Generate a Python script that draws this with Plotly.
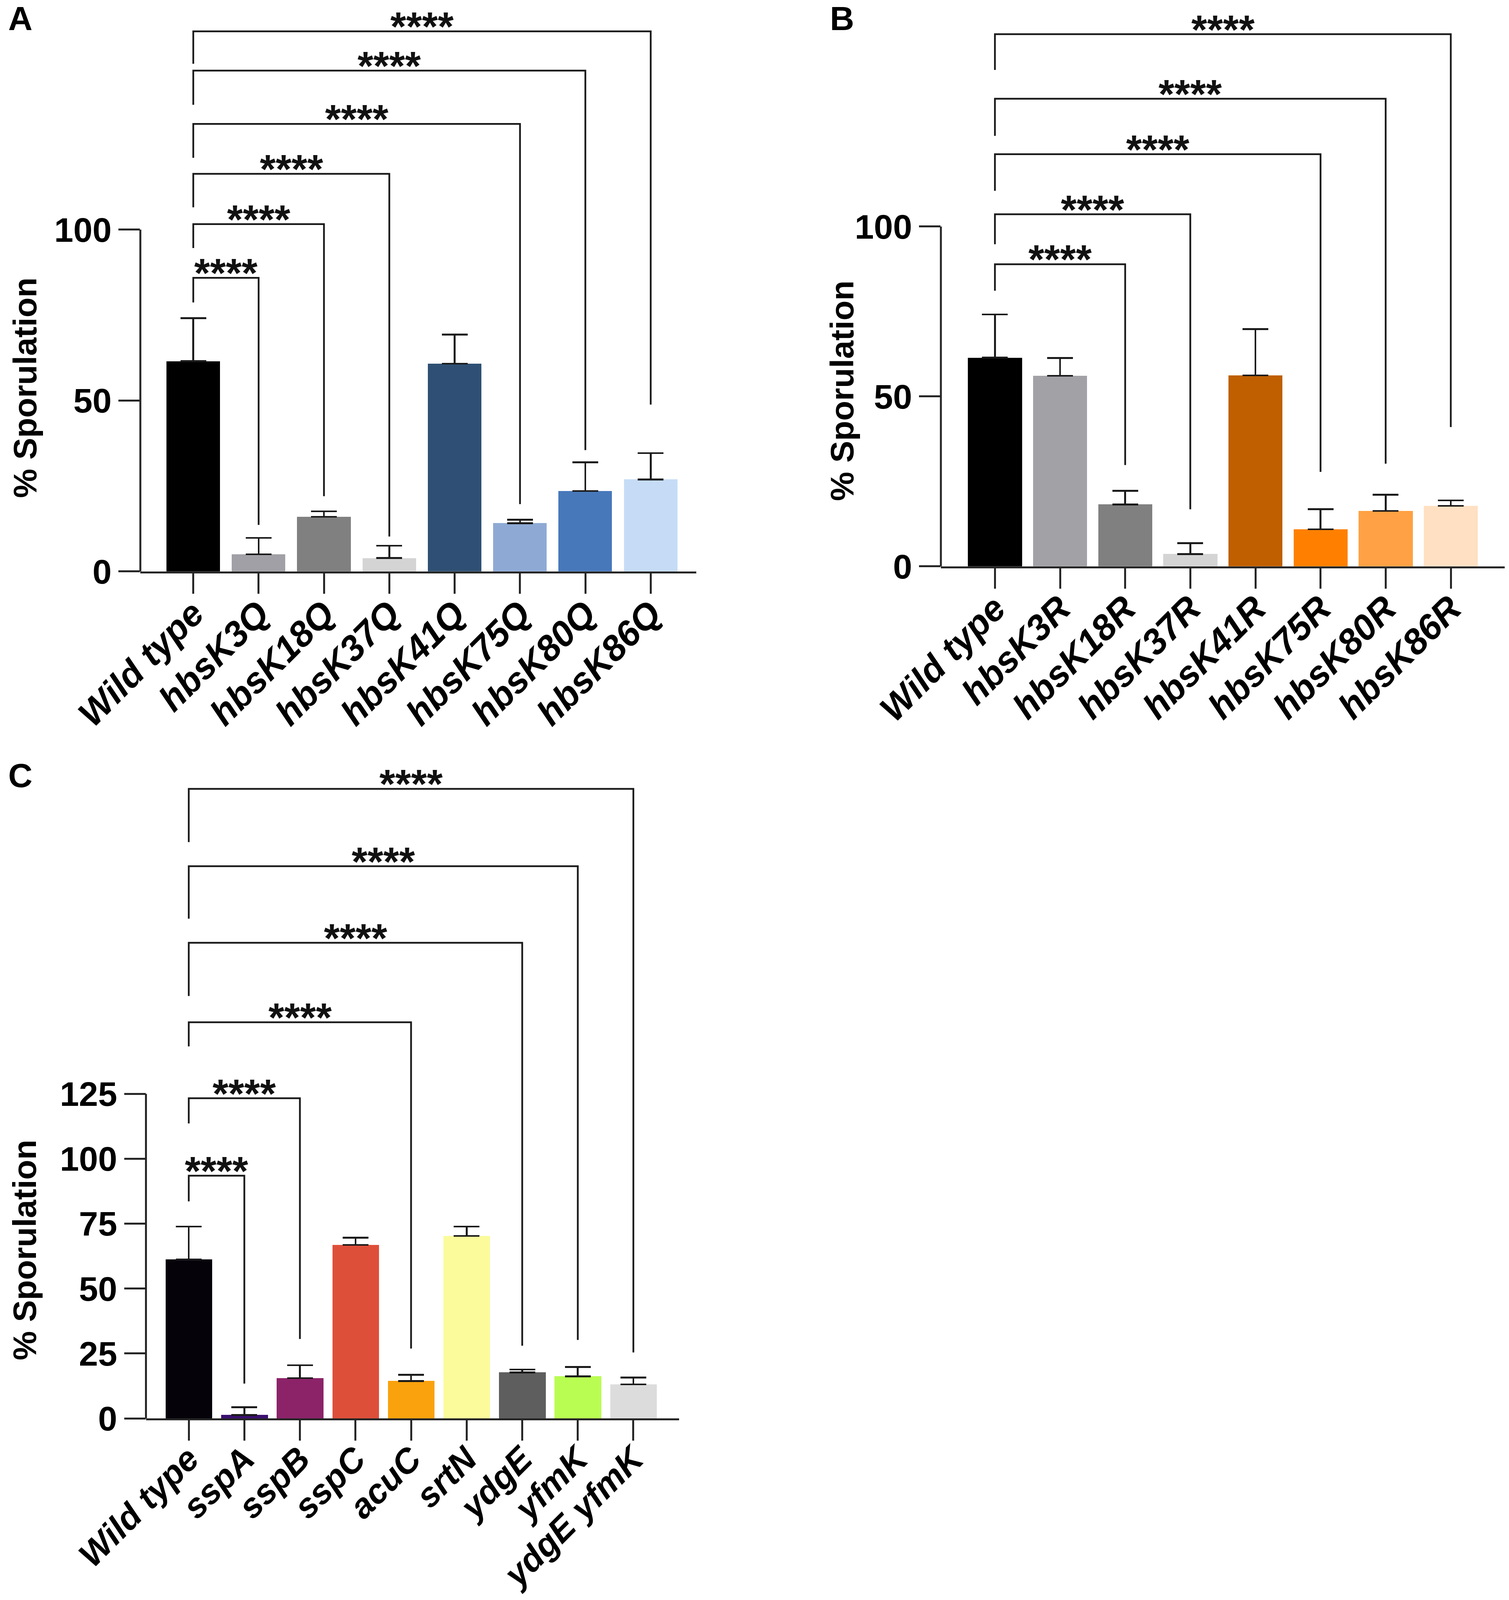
import plotly.graph_objects as go

# ---------------- data ----------------
a_cats = ["Wild type", "hbsK3Q", "hbsK18Q", "hbsK37Q", "hbsK41Q", "hbsK75Q", "hbsK80Q", "hbsK86Q"]
a_vals = [61.5, 5.0, 16.0, 3.9, 60.8, 14.1, 23.5, 26.9]
a_errs = [12.6, 4.8, 1.6, 3.6, 8.5, 1.0, 8.4, 7.7]
a_colors = ["#000000", "#a0a0a6", "#808080", "#d4d4d4", "#2f5074", "#8eaad4", "#4778ba", "#c6dcf6"]
a_targets = [1, 2, 3, 5, 6, 7]
a_bracket_y = [85.9, 101.6, 116.3, 130.9, 146.5, 158.0]
a_left_y = [78.7, 94.6, 106.5, 121.0, 136.5, 148.5]
a_right_y = [13.6, 22.0, 10.2, 19.7, 35.5, 48.8]
a_yticks = [0, 50, 100]

b_cats = ["Wild type", "hbsK3R", "hbsK18R", "hbsK37R", "hbsK41R", "hbsK75R", "hbsK80R", "hbsK86R"]
b_vals = [61.4, 56.1, 18.2, 3.6, 56.2, 10.9, 16.3, 17.8]
b_errs = [12.7, 5.2, 4.0, 3.2, 13.6, 5.9, 4.8, 1.6]
b_colors = ["#000000", "#a1a1a6", "#808080", "#d4d4d4", "#bf5f00", "#ff8000", "#ffa144", "#ffe0c2"]
b_targets = [2, 3, 5, 6, 7]
b_bracket_y = [88.9, 103.6, 121.3, 137.6, 156.6]
b_left_y = [81.1, 94.8, 110.5, 126.7, 146.1]
b_right_y = [29.8, 16.8, 27.8, 30.2, 41.0]
b_yticks = [0, 50, 100]

c_cats = ["Wild type", "sspA", "sspB", "sspC", "acuC", "srtN", "ydgE", "yfmK", "ydgE yfmK"]
c_vals = [61.2, 1.3, 15.5, 66.8, 14.4, 70.3, 17.7, 16.2, 13.1]
c_errs = [12.7, 3.0, 5.0, 2.8, 2.4, 3.6, 1.1, 3.6, 2.6]
c_colors = ["#05020a", "#3b0f70", "#8c2369", "#de4f3a", "#f9a20d", "#fbfb9c", "#5e5e5e", "#b9fd52", "#dcdcdc"]
c_targets = [1, 2, 4, 6, 7, 8]
c_bracket_y = [93.5, 123.3, 152.6, 183.2, 212.7, 242.5]
c_left_y = [83.6, 113.6, 143.3, 162.7, 192.5, 222.0]
c_right_y = [13.4, 30.6, 26.9, 28.0, 30.2, 25.4]
c_yticks = [0, 25, 50, 75, 100, 125]

stars = "****"
ytitle = "% Sporulation"

# ---------------- styling / layout constants ----------------
W, H = 3862, 4508
FONT = "Liberation Sans, Arial, sans-serif"
AXC = "#262626"
LINEW = 5
BRW = 4.5

panels = [
    dict(cats=a_cats, vals=a_vals, errs=a_errs, colors=a_colors, targets=a_targets,
         by=a_bracket_y, ly=a_left_y, ry=a_right_y, yticks=a_yticks,
         xdom=[125 / 1344, 620 / 1344], ydom=[1 - 560 / 1568, 1.0],
         xr=[-0.81, 7.695], yr=[0, 560 / 3.35], bw=0.82, letter="A", xfs=92,
         lpos=(18 / 1344, 1 - 18 / 1568), tpos=(22 / 1344, 1 - 380 / 1568)),
    dict(cats=b_cats, vals=b_vals, errs=b_errs, colors=b_colors, targets=b_targets,
         by=b_bracket_y, ly=b_left_y, ry=b_right_y, yticks=b_yticks,
         xdom=[838 / 1344, 1340 / 1344], ydom=[1 - 555 / 1568, 1.0],
         xr=[-0.83, 7.825], yr=[0, 555 / 3.33], bw=0.83, letter="B", xfs=92,
         lpos=(750 / 1344, 1 - 18 / 1568), tpos=(750 / 1344, 1 - 383 / 1568)),
    dict(cats=c_cats, vals=c_vals, errs=c_errs, colors=c_colors, targets=c_targets,
         by=c_bracket_y, ly=c_left_y, ry=c_right_y, yticks=c_yticks,
         xdom=[130 / 1344, 605 / 1344], ydom=[1 - 1390 / 1568, 1 - 748 / 1568],
         xr=[-0.77, 8.826], yr=[0, 642 / 2.544], bw=0.84, letter="C", xfs=88,
         lpos=(18 / 1344, 1 - 760 / 1568), tpos=(22 / 1344, 1 - 1225 / 1568)),
]

fig = go.Figure()
annotations = []
shapes = []
layout = {}

for i, p in enumerate(panels):
    sfx = "" if i == 0 else str(i + 1)
    xa, ya = "x" + sfx, "y" + sfx
    n = len(p["cats"])
    xs = list(range(n))
    fig.add_trace(go.Bar(
        x=xs, y=p["vals"], xaxis=xa, yaxis=ya, width=p["bw"],
        marker=dict(color=p["colors"], line=dict(width=0)),
        error_y=dict(type="data", symmetric=False, array=p["errs"],
                     arrayminus=[0] * n, color="#1a1a1a", thickness=4.5, width=33),
        showlegend=False, hoverinfo="skip",
    ))
    for t, h, l, r in zip(p["targets"], p["by"], p["ly"], p["ry"]):
        fig.add_trace(go.Scatter(
            x=[0, 0, t, t], y=[l, h, h, r], xaxis=xa, yaxis=ya, mode="lines",
            line=dict(color="#1a1a1a", width=BRW), showlegend=False,
            hoverinfo="skip", cliponaxis=False,
        ))
        annotations.append(dict(
            x=t / 2, y=h, xref=xa, yref=ya, text=stars, showarrow=False,
            xanchor="center", yanchor="bottom", yshift=-48,
            font=dict(family=FONT, size=104, color="#111111", weight="bold"),
        ))
    layout["xaxis" + sfx] = dict(
        domain=p["xdom"], range=p["xr"], anchor=ya, automargin=False,
        tickmode="array", tickvals=xs, ticktext=p["cats"], tickangle=-45,
        ticks="outside", ticklen=52, tickwidth=LINEW, tickcolor=AXC,
        ticklabelstandoff=-40,
        showline=True, linecolor=AXC, linewidth=LINEW,
        showgrid=False, zeroline=False,
        tickfont=dict(family=FONT, size=p["xfs"], color="#000000", weight="bold", style="italic"),
    )
    layout["yaxis" + sfx] = dict(
        domain=p["ydom"], range=p["yr"], anchor=xa, automargin=False,
        tickmode="array", tickvals=p["yticks"], ticktext=[str(v) for v in p["yticks"]],
        ticks="outside", ticklen=55, tickwidth=LINEW, tickcolor=AXC,
        showline=False, showgrid=False, zeroline=False,
        tickfont=dict(family=FONT, size=88, color="#000000", weight="bold"),
    )
    shapes.append(dict(type="line", xref=xa + " domain", yref=ya,
                       x0=0, x1=0, y0=-2, y1=max(p["yticks"]),
                       line=dict(color=AXC, width=LINEW)))
    annotations.append(dict(
        x=p["lpos"][0], y=p["lpos"][1], xref="paper", yref="paper", text=p["letter"],
        showarrow=False, xanchor="center", yanchor="middle",
        font=dict(family=FONT, size=86, color="#000000", weight="bold"),
    ))
    annotations.append(dict(
        x=p["tpos"][0], y=p["tpos"][1], xref="paper", yref="paper", text=ytitle,
        showarrow=False, xanchor="center", yanchor="middle", textangle=-90,
        font=dict(family=FONT, size=84, color="#000000", weight="bold"),
    ))

fig.update_layout(
    width=W, height=H, margin=dict(l=0, r=0, t=0, b=0, autoexpand=False),
    paper_bgcolor="white", plot_bgcolor="white",
    annotations=annotations, shapes=shapes, bargap=0, **layout,
)

fit_js = (
    "document.body.style.margin='0px';"
    "var gd=document.getElementById('{plot_id}');"
    "var w=window.innerWidth, h=window.innerHeight;"
    "if (w>0 && h>0 && (w!=" + str(W) + " || h!=" + str(H) + ")) {"
    "Plotly.relayout(gd,{width:w,height:h});}"
)
fig.write_html("out.html", post_script=fit_js, config={"displayModeBar": False})
